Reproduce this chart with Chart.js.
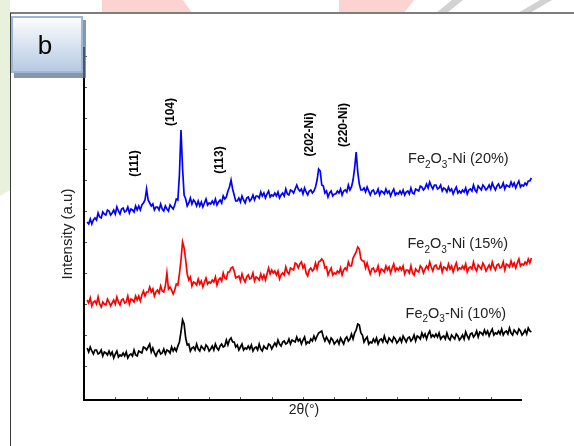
<!DOCTYPE html>
<html><head><meta charset="utf-8">
<script src="https://cdn.jsdelivr.net/npm/chart.js@4.4.0/dist/chart.umd.min.js"></script>
<style>html,body{margin:0;padding:0;background:#fff;overflow:hidden}#wrap{width:574px;height:446px;position:relative}</style>
</head><body><div id="wrap"><canvas id="c" width="574" height="446"></canvas></div>
<script>
// 2θ sampling: start and step (degrees)
const thetaStart = 10.5, thetaStep = 0.25;
// intensities (a.u.), one value per 0.25°
const ni20 = [178,176,181,176,180,182,180,187,183,182,188,186,185,190,189,185,187,190,186,193,
189,186,191,192,188,189,193,187,191,190,188,194,190,194,190,195,197,200,211,200,
197,194,196,190,193,193,190,196,191,189,194,191,189,195,193,191,195,201,200,225,
270,232,205,201,194,197,202,196,200,198,194,199,194,198,193,197,201,195,197,196,
199,196,201,195,198,200,197,204,201,203,209,213,220,211,205,199,199,202,198,204,
200,197,202,203,199,201,205,200,204,204,202,208,204,207,202,206,209,203,205,204,
207,204,208,202,205,207,204,211,206,205,210,209,207,211,215,211,209,211,206,212,
208,205,209,210,207,209,213,220,231,229,215,214,207,209,203,207,209,204,206,206,
209,207,211,205,209,210,208,215,210,213,220,232,248,228,216,210,210,212,208,213,
209,205,209,210,206,207,211,205,209,208,206,211,207,209,204,208,211,205,207,206,
209,206,210,205,208,209,206,212,207,206,211,210,209,214,213,210,212,216,212,218,
214,211,215,215,211,212,215,209,212,211,208,213,209,211,206,210,213,207,209,207,
210,208,212,206,210,211,209,215,210,208,214,212,210,215,213,210,212,215,211,217,
213,210,214,216,212,213,217,211,215,214,213,218,214,217,212,216,219,213,215,214,
217,215,219,219,222];
const ni15 = [100,97,102,94,98,99,96,103,96,93,98,96,95,101,98,94,97,100,96,103,
98,95,100,101,97,98,104,96,101,100,98,104,100,104,99,105,109,104,108,108,
113,108,111,104,108,110,107,114,109,108,114,127,111,113,110,106,110,116,115,126,
140,158,152,140,126,120,123,114,118,117,115,121,116,119,113,118,122,116,118,117,
120,118,123,115,120,122,119,127,122,121,128,128,132,133,129,122,123,124,119,126,
121,118,123,125,121,122,127,119,123,122,120,126,121,125,120,126,132,126,130,127,
129,125,129,121,125,127,125,133,128,126,132,131,130,137,136,132,136,138,132,135,
127,124,130,132,129,131,137,131,138,139,141,139,132,133,125,129,132,125,127,126,
129,127,132,125,130,132,130,138,134,134,142,145,148,153,151,141,139,139,132,137,
131,126,131,132,128,129,134,126,131,130,128,134,130,133,127,132,136,129,132,130,
133,130,134,126,130,130,127,134,127,125,131,129,128,134,132,127,131,134,131,138,
133,129,134,135,131,131,136,128,133,132,130,136,131,134,128,133,137,130,132,131,
134,131,136,128,132,133,131,138,132,129,135,133,131,137,134,129,132,135,131,138,
133,130,135,136,132,133,138,130,136,135,133,139,134,137,132,137,141,134,136,135,
138,136,141,137,142];
const ni10 = [52,48,53,49,46,50,50,46,47,50,44,48,47,45,49,45,48,42,46,49,
43,45,44,47,44,48,42,45,46,44,50,45,44,49,48,47,53,52,50,53,
56,48,52,47,44,48,50,46,47,51,46,50,49,47,53,49,52,49,54,58,
68,80,76,62,55,56,49,52,53,50,56,51,49,54,52,50,55,53,49,51,
54,50,56,52,50,54,56,53,54,60,55,60,62,58,58,53,55,50,53,56,
50,52,51,54,51,55,49,52,53,50,56,51,49,54,52,51,56,55,51,54,
57,54,60,56,54,58,59,56,57,61,56,60,59,58,63,59,61,56,60,63,
56,58,57,61,59,64,60,64,67,68,69,63,59,63,60,57,62,60,56,58,
60,56,62,59,56,61,63,59,61,66,61,67,70,76,75,67,65,58,61,63,
56,58,57,61,58,62,56,60,61,58,64,59,57,62,60,58,63,61,57,59,
62,58,64,61,58,62,63,59,61,65,59,64,63,61,67,63,66,61,66,69,
63,65,63,66,63,67,61,63,64,61,67,62,60,65,63,61,66,64,60,62,
65,61,68,64,61,66,67,63,65,69,63,68,67,65,70,66,69,64,68,71,
65,67,66,69,66,71,65,68,69,66,72,67,65,70,68,66,71,69,65,67,
70,66,72,69,68];

const seriesPercent = ['20%','15%','10%'];
const seriesColors = ['#0000ff','#ff0000','#000000'];
const seriesLabelTheta = [61.8, 61.7, 61.4];
const seriesLabelY = [237, 152, 82.5];

const peakLabels = ['(111)','(104)','(113)','(202-Ni)','(220-Ni)'];
const peakLabelTheta = [18.04, 23.86, 31.62, 46.0, 51.44];
const peakLabelY = [236.5, 288, 240, 265.5, 275];

const xTicks = [15,20,25,30,35,40,45,50,55,60,65,70,75];
const yTicks = [34,65,96,127,158,189,220,251,282,313,344];
const xAxisEnd = 80;
const xTitle = '2θ(°)';
const yTitle = 'Intensity (a.u)';
const panelLetter = 'b';

function toPoints(arr){ return arr.map((v,i)=>({x: thetaStart + i*thetaStep, y: v})); }

const FONT = '"Liberation Sans", Arial, Helvetica, sans-serif';

const deco = {
  id: 'deco',
  beforeDraw(chart){
    const ctx = chart.ctx;
    ctx.save();
    ctx.fillStyle = '#fff'; ctx.fillRect(0,0,574,446);
    // faint watermark pieces outside the frame
    ctx.fillStyle = '#e8f1dc';
    ctx.beginPath(); ctx.moveTo(0,0); ctx.lineTo(10,0); ctx.lineTo(10,190); ctx.lineTo(0,196); ctx.closePath(); ctx.fill();
    ctx.fillStyle = '#fbd3d1';
    ctx.beginPath(); ctx.moveTo(102,0); ctx.lineTo(183,0); ctx.lineTo(192,13); ctx.lineTo(102,13); ctx.closePath(); ctx.fill();
    ctx.beginPath(); ctx.moveTo(339,0); ctx.lineTo(414,0); ctx.lineTo(404,13); ctx.lineTo(339,13); ctx.closePath(); ctx.fill();
    ctx.fillStyle = '#d2d2d2';
    ctx.beginPath(); ctx.moveTo(452,0); ctx.lineTo(463,0); ctx.lineTo(447,13); ctx.lineTo(436,13); ctx.closePath(); ctx.fill();
    ctx.beginPath(); ctx.moveTo(540,0); ctx.lineTo(552,0); ctx.lineTo(530,13); ctx.lineTo(518,13); ctx.closePath(); ctx.fill();
    // frame
    ctx.fillStyle = '#fff'; ctx.fillRect(10,13,564,433);
    ctx.strokeStyle = '#7d7d7d'; ctx.lineWidth = 2;
    ctx.beginPath(); ctx.moveTo(10,13); ctx.lineTo(574,13); ctx.stroke();
    ctx.strokeStyle = '#3a3a3a'; ctx.lineWidth = 1;
    ctx.beginPath(); ctx.moveTo(10.5,13); ctx.lineTo(10.5,446); ctx.stroke();
    ctx.restore();
  },
  beforeDatasetsDraw(chart){
    const {ctx, scales:{x,y}, chartArea} = chart;
    ctx.save();
    const x0 = x.getPixelForValue(10), x1 = x.getPixelForValue(xAxisEnd);
    const y0 = y.getPixelForValue(0), yt = chartArea.top;
    ctx.strokeStyle = '#000'; ctx.lineWidth = 2;
    ctx.beginPath(); ctx.moveTo(x0, yt); ctx.lineTo(x0, y0); ctx.lineTo(x1, y0); ctx.stroke();
    ctx.lineWidth = 1;
    ctx.strokeStyle = '#555';
    xTicks.forEach(v=>{ const p = Math.round(x.getPixelForValue(v))+0.5; ctx.beginPath(); ctx.moveTo(p,y0-1); ctx.lineTo(p,y0-3); ctx.stroke(); });
    yTicks.forEach(v=>{ const p = Math.round(y.getPixelForValue(v))+0.5; ctx.beginPath(); ctx.moveTo(x0+1,p); ctx.lineTo(x0+3,p); ctx.stroke(); });
    ctx.restore();
  },
  afterDatasetsDraw(chart){
    const {ctx, scales:{x,y}} = chart;
    ctx.save();
    // peak labels
    ctx.fillStyle = '#000';
    ctx.font = 'bold 12px ' + FONT;
    ctx.textAlign = 'center'; ctx.textBaseline = 'middle';
    peakLabels.forEach((t,i)=>{
      ctx.save();
      ctx.translate(x.getPixelForValue(peakLabelTheta[i]), y.getPixelForValue(peakLabelY[i]));
      ctx.rotate(-Math.PI/2);
      ctx.fillText(t, 0, 0);
      ctx.restore();
    });
    // series labels  Fe2O3-Ni (xx%)
    ctx.fillStyle = '#222';
    ctx.textAlign = 'left'; ctx.textBaseline = 'alphabetic';
    seriesPercent.forEach((pc,i)=>{
      let px = x.getPixelForValue(seriesLabelTheta[i]);
      const py = y.getPixelForValue(seriesLabelY[i]);
      const parts = [['Fe',0],['2',1],['O',0],['3',1],['-Ni ('+pc+')',0]];
      parts.forEach(([t,sub])=>{
        ctx.font = (sub ? '10px ' : '14.5px ') + FONT;
        ctx.fillText(t, px, py + (sub ? 4.5 : 0));
        px += ctx.measureText(t).width;
      });
    });
    // axis titles
    ctx.fillStyle = '#222';
    ctx.font = '14px ' + FONT;
    ctx.textAlign = 'center';
    ctx.fillText(xTitle, (x.getPixelForValue(10)+x.getPixelForValue(xAxisEnd))/2 + 1, 414);
    ctx.save();
    ctx.translate(72, 234);
    ctx.rotate(-Math.PI/2);
    ctx.font = '15px ' + FONT;
    ctx.fillText(yTitle, 0, 0);
    ctx.restore();
    // panel letter box
    ctx.fillStyle = 'rgba(95,115,145,0.75)';
    ctx.fillRect(14, 20, 72, 58);
    const g = ctx.createLinearGradient(0,16,0,73);
    g.addColorStop(0,'#ffffff'); g.addColorStop(1,'#b4c8e2');
    ctx.fillStyle = g;
    ctx.fillRect(11, 16, 72, 57);
    ctx.strokeStyle = '#9cb6d8'; ctx.lineWidth = 2;
    ctx.strokeRect(12, 17, 70, 55);
    ctx.fillStyle = '#000';
    ctx.font = '26px ' + FONT;
    ctx.textAlign = 'center'; ctx.textBaseline = 'alphabetic';
    ctx.fillText(panelLetter, 45, 54);
    ctx.restore();
  }
};

new Chart(document.getElementById('c'), {
  type: 'line',
  data: {
    datasets: [ni20, ni15, ni10].map((arr,i)=>({
      label: 'Fe2O3-Ni (' + seriesPercent[i] + ')',
      data: toPoints(arr),
      borderColor: seriesColors[i],
      borderWidth: 1.7,
      pointRadius: 0,
      tension: 0,
      fill: false
    }))
  },
  options: {
    responsive: false,
    animation: false,
    events: [],
    layout: { padding: { left: 84, right: 42, top: 47, bottom: 46 } },
    plugins: { legend: { display: false }, tooltip: { enabled: false } },
    scales: {
      x: { type: 'linear', min: 10, max: 81.6, display: false },
      y: { type: 'linear', min: 0, max: 353, display: false }
    }
  },
  plugins: [deco]
});
</script>
</body></html>
